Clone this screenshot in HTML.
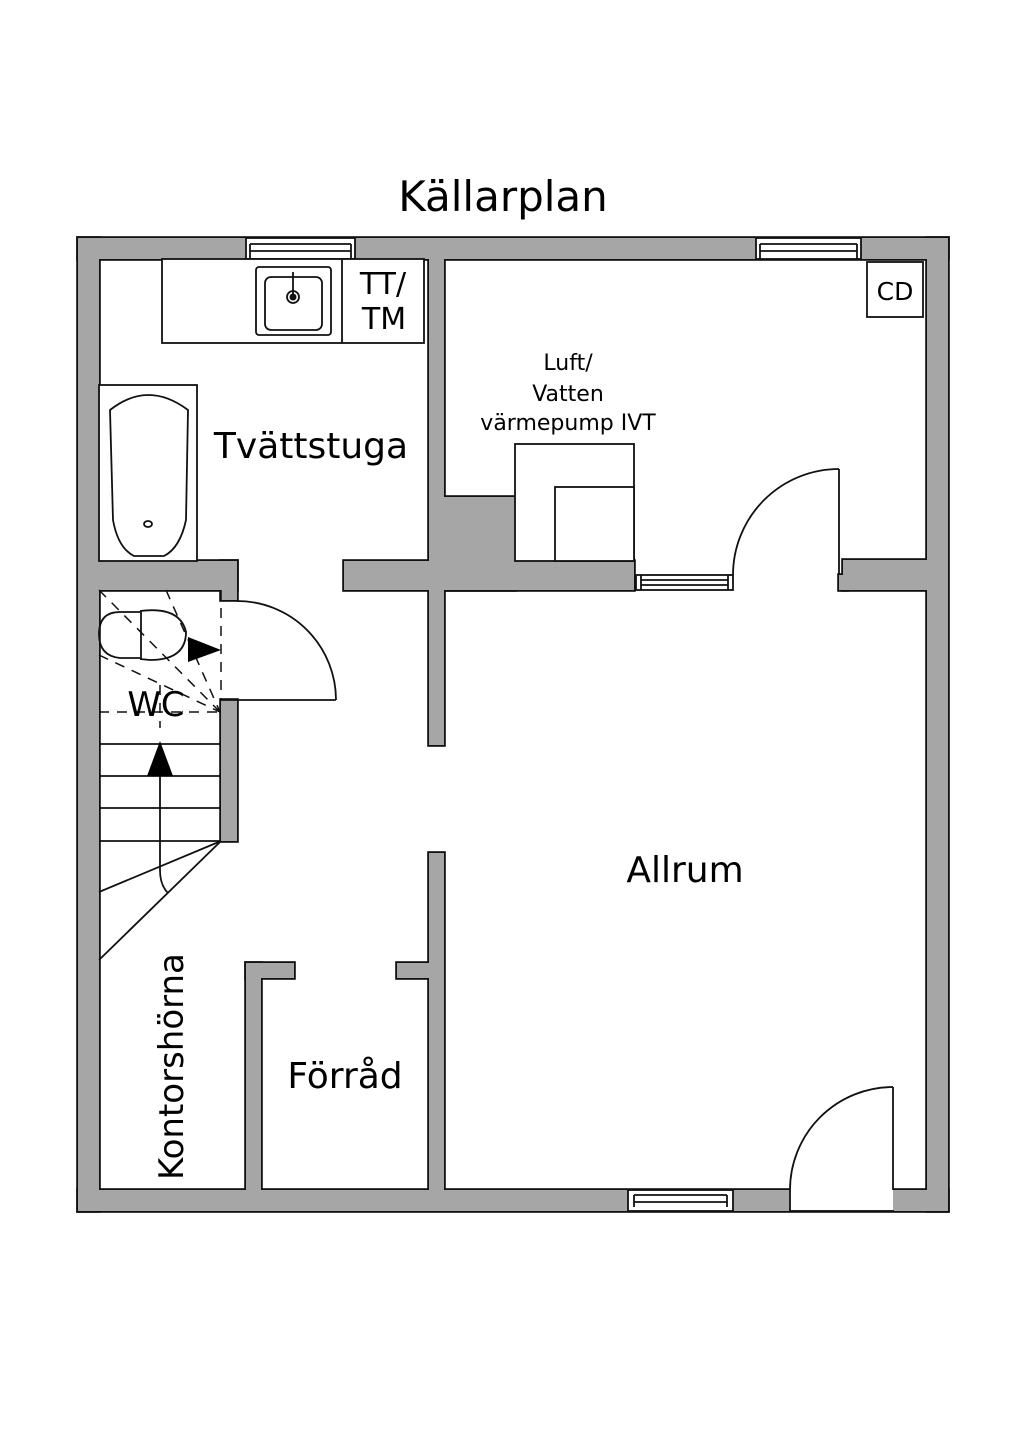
<!DOCTYPE html>
<html><head><meta charset="utf-8"><style>html,body{margin:0;padding:0;background:#fff}svg{display:block}text{font-family:"DejaVu Sans","Liberation Sans",sans-serif;fill:#000}</style></head>
<body>
<svg width="1024" height="1448" viewBox="0 0 1024 1448" xmlns="http://www.w3.org/2000/svg">
<g fill="#a6a6a6" stroke="#111" stroke-width="3.6">
<rect x="78" y="238" width="870" height="21"/>
<rect x="78" y="1190" width="870" height="21"/>
<rect x="78" y="238" width="21" height="973"/>
<rect x="927" y="238" width="21" height="973"/>
<rect x="429" y="259" width="15" height="486"/>
<rect x="429" y="853" width="15" height="337"/>
<rect x="444" y="497" width="71" height="93"/>
<rect x="344" y="561" width="290" height="29"/>
<rect x="843" y="560" width="84" height="30"/>
<rect x="839" y="575" width="8" height="15"/>
<rect x="99" y="561" width="138" height="29"/>
<rect x="221" y="561" width="16" height="39"/>
<rect x="221" y="700" width="16" height="141"/>
<rect x="246" y="963" width="15" height="227"/>
<rect x="246" y="963" width="48" height="15"/>
<rect x="397" y="963" width="32" height="15"/>
</g>
<g fill="#a6a6a6">
<rect x="78" y="238" width="870" height="21"/>
<rect x="78" y="1190" width="870" height="21"/>
<rect x="78" y="238" width="21" height="973"/>
<rect x="927" y="238" width="21" height="973"/>
<rect x="429" y="259" width="15" height="486"/>
<rect x="429" y="853" width="15" height="337"/>
<rect x="444" y="497" width="71" height="93"/>
<rect x="344" y="561" width="290" height="29"/>
<rect x="843" y="560" width="84" height="30"/>
<rect x="839" y="575" width="8" height="15"/>
<rect x="99" y="561" width="138" height="29"/>
<rect x="221" y="561" width="16" height="39"/>
<rect x="221" y="700" width="16" height="141"/>
<rect x="246" y="963" width="15" height="227"/>
<rect x="246" y="963" width="48" height="15"/>
<rect x="397" y="963" width="32" height="15"/>
</g>
<rect x="790" y="1188" width="103" height="22" fill="#fff"/>
<g fill="none" stroke="#111" stroke-width="1.8">
<line x1="790" y1="1190" x2="790" y2="1211"/>
<line x1="789" y1="1211" x2="894" y2="1211"/>
</g>
<g fill="#fff" stroke="#111" stroke-width="1.8">
<rect x="246" y="238" width="109" height="21"/>
<line x1="250" y1="244" x2="351" y2="244"/><line x1="250" y1="251" x2="351" y2="251"/><line x1="250" y1="244" x2="250" y2="259"/><line x1="351" y1="244" x2="351" y2="259"/>
<rect x="756" y="238" width="105" height="21"/>
<line x1="760" y1="244" x2="857" y2="244"/><line x1="760" y1="251" x2="857" y2="251"/><line x1="760" y1="244" x2="760" y2="259"/><line x1="857" y1="244" x2="857" y2="259"/>
<rect x="628" y="1190" width="105" height="21"/>
<line x1="634" y1="1195" x2="727" y2="1195"/><line x1="634" y1="1202" x2="727" y2="1202"/><line x1="634" y1="1195" x2="634" y2="1207"/><line x1="727" y1="1195" x2="727" y2="1207"/>
<rect x="636" y="575" width="97" height="15"/>
<line x1="641" y1="580" x2="728" y2="580"/><line x1="641" y1="585" x2="728" y2="585"/><line x1="641" y1="575" x2="641" y2="590"/><line x1="728" y1="575" x2="728" y2="590"/>
<rect x="515" y="444" width="119" height="117"/>
<rect x="555" y="487" width="79" height="74"/>
<rect x="162" y="259" width="262" height="84"/>
<line x1="342" y1="259" x2="342" y2="343"/>
<rect x="256" y="267" width="75" height="68" rx="3"/>
<rect x="265" y="277" width="57" height="53" rx="6"/>
<rect x="99" y="385" width="98" height="176"/>
<path d="M110 410 Q148 380 188 410 L186 520 Q180 548 164 556 L134 556 Q118 548 113 520 Z"/>
<ellipse cx="148" cy="524" rx="4" ry="3"/>
<rect x="867" y="262" width="56" height="55"/>
</g>
<g fill="none" stroke="#111" stroke-width="1.8">
<line x1="293" y1="272" x2="293" y2="296"/><circle cx="293" cy="297" r="3.5" fill="#111" stroke="none"/><circle cx="293" cy="297" r="6"/>
<line x1="839" y1="575" x2="839" y2="469"/>
<path d="M839 469 A106 106 0 0 0 733 575"/>
<line x1="893" y1="1190" x2="893" y2="1087"/>
<path d="M893 1087 A103 103 0 0 0 790 1190"/>
<line x1="221" y1="700" x2="336" y2="700"/>
<path d="M237 601 A99 99 0 0 1 336 700"/>
<path d="M140 612 L120 612 Q99 612 99 634 Q99 656 120 658 L140 658"/>
<path d="M140 611 Q180 606 186 632 Q186 660 150 660 L140 659"/>
<line x1="141" y1="611" x2="141" y2="659"/>
<line x1="99" y1="744" x2="221" y2="744"/>
<line x1="99" y1="776" x2="221" y2="776"/>
<line x1="99" y1="808" x2="221" y2="808"/>
<line x1="99" y1="841" x2="221" y2="841"/>
<line x1="221" y1="841" x2="99" y2="892"/>
<line x1="221" y1="841" x2="99" y2="960"/>
<path d="M160 762 L160 870 Q160 885 168 893"/>
</g>
<g stroke="#111" stroke-width="1.5" stroke-dasharray="10 8" fill="none">
<line x1="221" y1="590" x2="221" y2="700"/>
<line x1="99" y1="712" x2="221" y2="712"/>
<line x1="160" y1="685" x2="160" y2="728"/>
<line x1="99" y1="590" x2="220" y2="712"/>
<line x1="166" y1="590" x2="220" y2="712"/>
<line x1="99" y1="655" x2="220" y2="712"/>
</g>
<polygon points="188,637 221,650 188,662" fill="#000"/>
<polygon points="160,741 147,776 173,776" fill="#000"/>
<g>
<text x="503" y="211" font-size="42" text-anchor="middle">Källarplan</text>
<text x="311" y="458" font-size="36" text-anchor="middle">Tvättstuga</text>
<text x="383" y="294" font-size="30" text-anchor="middle">TT/</text>
<text x="384" y="329" font-size="30" text-anchor="middle">TM</text>
<text x="895" y="300" font-size="25" text-anchor="middle">CD</text>
<text x="568" y="370" font-size="22" text-anchor="middle">Luft/</text>
<text x="568" y="401" font-size="22" text-anchor="middle">Vatten</text>
<text x="568" y="430" font-size="22" text-anchor="middle">värmepump IVT</text>
<text x="685" y="882" font-size="36" text-anchor="middle">Allrum</text>
<text x="345" y="1088" font-size="36" text-anchor="middle">Förråd</text>
<text x="156" y="716" font-size="34" text-anchor="middle">WC</text>
<text transform="translate(183,1180) rotate(-90)" font-size="34">Kontorshörna</text>
</g>
</svg>
</body></html>
